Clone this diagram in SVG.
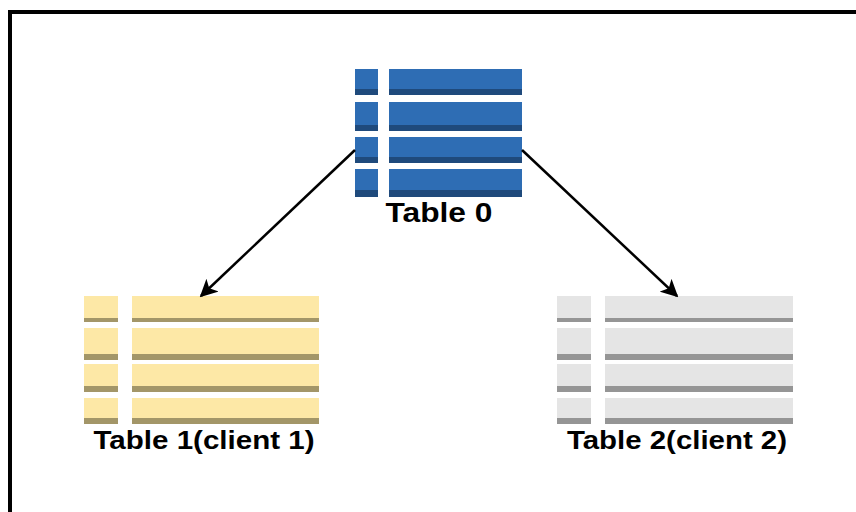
<svg xmlns="http://www.w3.org/2000/svg" width="856" height="512" viewBox="0 0 856 512">
  <defs>
    <style>
      .lbl { font-family: "Liberation Sans", Arial, sans-serif; font-weight: bold; fill: #000; text-anchor: middle; }
      .blue { fill: #2e6db4; }
      .blue-d { fill: #1f4a7c; }
      .yel { fill: #fde8a6; }
      .yel-d { fill: #a39668; }
      .gry { fill: #e5e5e5; }
      .gry-d { fill: #959595; }
      .edge { stroke: #000; stroke-width: 2.5; fill: none; }
    </style>
    <marker id="arrow" viewBox="0 0 10 10" refX="9" refY="5" markerWidth="7" markerHeight="7" markerUnits="strokeWidth" orient="auto">
      <path d="M0,0 L10,5 L0,10 L2.5,5 z" fill="#000"/>
    </marker>
  </defs>

  <rect x="0" y="0" width="856" height="512" fill="#fff"/>
  <!-- frame -->
  <path d="M10,512 V12 H856" fill="none" stroke="#000" stroke-width="4"/>

  <!-- Table 0 -->
  <g id="table0">
    <rect class="blue" x="355" y="69" width="23" height="26"/>
    <rect class="blue" x="389" y="69" width="133" height="26"/>
    <rect class="blue-d" x="355" y="89" width="23" height="6"/>
    <rect class="blue-d" x="389" y="89" width="133" height="6"/>
    <rect class="blue" x="355" y="102" width="23" height="29"/>
    <rect class="blue" x="389" y="102" width="133" height="29"/>
    <rect class="blue-d" x="355" y="125" width="23" height="6"/>
    <rect class="blue-d" x="389" y="125" width="133" height="6"/>
    <rect class="blue" x="355" y="137" width="23" height="26"/>
    <rect class="blue" x="389" y="137" width="133" height="26"/>
    <rect class="blue-d" x="355" y="157" width="23" height="6"/>
    <rect class="blue-d" x="389" y="157" width="133" height="6"/>
    <rect class="blue" x="355" y="169" width="23" height="28"/>
    <rect class="blue" x="389" y="169" width="133" height="28"/>
    <rect class="blue-d" x="355" y="190" width="23" height="7"/>
    <rect class="blue-d" x="389" y="190" width="133" height="7"/>
    <text class="lbl" x="439" y="222" font-size="27" textLength="107" lengthAdjust="spacingAndGlyphs">Table 0</text>
  </g>

  <!-- Table 1 -->
  <g id="table1">
    <rect class="yel" x="84" y="296" width="34" height="26"/>
    <rect class="yel" x="132" y="296" width="187" height="26"/>
    <rect class="yel-d" x="84" y="318" width="34" height="4"/>
    <rect class="yel-d" x="132" y="318" width="187" height="4"/>
    <rect class="yel" x="84" y="328" width="34" height="32"/>
    <rect class="yel" x="132" y="328" width="187" height="32"/>
    <rect class="yel-d" x="84" y="354" width="34" height="6"/>
    <rect class="yel-d" x="132" y="354" width="187" height="6"/>
    <rect class="yel" x="84" y="364" width="34" height="28"/>
    <rect class="yel" x="132" y="364" width="187" height="28"/>
    <rect class="yel-d" x="84" y="386" width="34" height="6"/>
    <rect class="yel-d" x="132" y="386" width="187" height="6"/>
    <rect class="yel" x="84" y="398" width="34" height="26"/>
    <rect class="yel" x="132" y="398" width="187" height="26"/>
    <rect class="yel-d" x="84" y="418" width="34" height="6"/>
    <rect class="yel-d" x="132" y="418" width="187" height="6"/>
    <text class="lbl" x="204" y="449" font-size="25" textLength="221" lengthAdjust="spacingAndGlyphs">Table 1(client 1)</text>
  </g>

  <!-- Table 2 -->
  <g id="table2">
    <rect class="gry" x="557" y="296" width="34" height="26"/>
    <rect class="gry" x="605" y="296" width="188" height="26"/>
    <rect class="gry-d" x="557" y="318" width="34" height="4"/>
    <rect class="gry-d" x="605" y="318" width="188" height="4"/>
    <rect class="gry" x="557" y="328" width="34" height="32"/>
    <rect class="gry" x="605" y="328" width="188" height="32"/>
    <rect class="gry-d" x="557" y="354" width="34" height="6"/>
    <rect class="gry-d" x="605" y="354" width="188" height="6"/>
    <rect class="gry" x="557" y="364" width="34" height="28"/>
    <rect class="gry" x="605" y="364" width="188" height="28"/>
    <rect class="gry-d" x="557" y="386" width="34" height="6"/>
    <rect class="gry-d" x="605" y="386" width="188" height="6"/>
    <rect class="gry" x="557" y="398" width="34" height="26"/>
    <rect class="gry" x="605" y="398" width="188" height="26"/>
    <rect class="gry-d" x="557" y="418" width="34" height="6"/>
    <rect class="gry-d" x="605" y="418" width="188" height="6"/>
    <text class="lbl" x="677" y="449" font-size="25" textLength="220" lengthAdjust="spacingAndGlyphs">Table 2(client 2)</text>
  </g>

  <!-- connectors -->
  <g id="connectors">
    <line class="edge" x1="355" y1="150" x2="201" y2="296" marker-end="url(#arrow)"/>
    <line class="edge" x1="522" y1="150" x2="677" y2="296" marker-end="url(#arrow)"/>
  </g>
</svg>
